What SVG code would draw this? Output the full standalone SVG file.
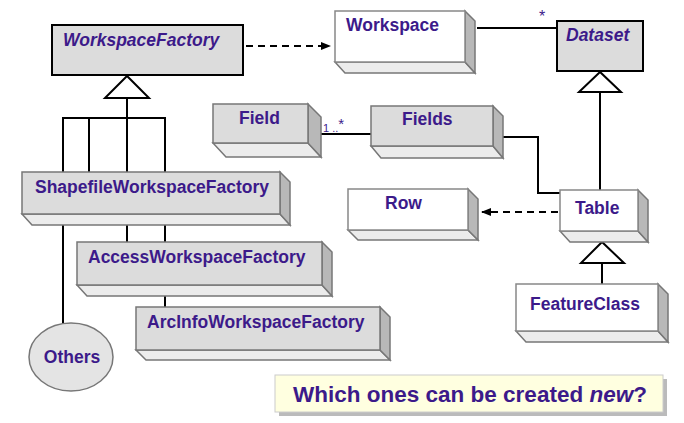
<svg xmlns="http://www.w3.org/2000/svg" width="684" height="423" viewBox="0 0 684 423">
<style>
.t{font-family:"Liberation Sans",Arial,sans-serif;font-weight:bold;font-size:17.5px;fill:#3c1a8a}
.i{font-style:italic}
.g{fill:#dcdcdc;stroke:#777;stroke-width:1.5}
.w{fill:#fff;stroke:#888;stroke-width:1.5}
.s{fill:#b8b8b8;stroke:#777;stroke-width:1.5}
.b{fill:#ececec;stroke:#777;stroke-width:1.5}
.ln{fill:none;stroke:#000;stroke-width:2}
.d{fill:none;stroke:#000;stroke-width:2;stroke-dasharray:7,5}
.tri{fill:#fff;stroke:#000;stroke-width:2}
</style>
<defs>
<marker id="a" viewBox="0 0 10 10" refX="9" refY="5" markerWidth="5" markerHeight="5" orient="auto"><path d="M0,1 L10,5 L0,9 z" fill="#000"/></marker>
</defs>
<rect width="684" height="423" fill="#fff"/>
<g id="connectors">
<path class="d" d="M246,46 H330" marker-end="url(#a)"/>
<path class="ln" d="M477,28 H557"/>
<path class="ln" d="M600,92 V190"/>
<path class="ln" d="M320,134 H371"/>
<path class="ln" d="M500,137 H538 V193 H560"/>
<path class="d" d="M558,212 H482" marker-end="url(#a)"/>
<path class="ln" d="M127,98 V172 M63,172 V118 H165 V172 M89,118 V172"/>
<path class="ln" d="M63,225 V323 M127,225 V242 M165,225 V242 M165,296 V307 M602,263 V284"/>
<polygon class="tri" points="127,76 105,98 149,98"/>
<polygon class="tri" points="600,72 579,92 621,92"/>
<polygon class="tri" points="602,242 581,263 624,263"/>
<text class="t" x="539" y="22" style="font-weight:normal;font-size:16px">*</text>
<text class="t" x="323" y="132" style="font-size:11px;font-weight:normal">1 ..<tspan style="font-size:15px" dy="-3">*</tspan></text>
</g>
<g id="WorkspaceFactory"><rect x="52" y="25" width="191" height="50" fill="#dcdcdc" stroke="#000" stroke-width="2"/><text class="t i" x="63" y="46">WorkspaceFactory</text></g>
<g id="Dataset"><rect x="557" y="21" width="86" height="50" fill="#dcdcdc" stroke="#000" stroke-width="2"/><text class="t i" x="566" y="41">Dataset</text></g>
<g id="Workspace"><polygon class="b" points="335,62 345,73 475,73 465,62"/><polygon class="s" points="465,11 475,21 475,73 465,62"/><rect class="w" x="335" y="11" width="130" height="51"/><text class="t" x="346" y="31">Workspace</text></g>
<g id="Field"><polygon class="b" points="213,143 226,157 321,157 308,143"/><polygon class="s" points="308,104 321,117 321,157 308,143"/><rect class="g" x="213" y="104" width="95" height="39"/><text class="t" x="239" y="124">Field</text></g>
<g id="Fields"><polygon class="b" points="371,146 381,158 503,158 493,146"/><polygon class="s" points="493,106 503,116 503,158 493,146"/><rect class="g" x="371" y="106" width="122" height="40"/><text class="t" x="402" y="125">Fields</text></g>
<g id="Row"><polygon class="b" points="348,230 358,240 478,240 468,230"/><polygon class="s" points="468,189 478,199 478,240 468,230"/><rect class="w" x="348" y="189" width="120" height="41"/><text class="t" x="385" y="209">Row</text></g>
<g id="Table"><polygon class="b" points="560,231 570,242 648,242 638,231"/><polygon class="s" points="638,190 648,200 648,242 638,231"/><rect class="w" x="560" y="190" width="78" height="41"/><text class="t" x="575" y="214">Table</text></g>
<g id="FeatureClass"><polygon class="b" points="516,331 526,342 668,342 658,331"/><polygon class="s" points="658,284 668,294 668,342 658,331"/><rect class="w" x="516" y="284" width="142" height="47"/><text class="t" x="530" y="310">FeatureClass</text></g>
<g id="ShapefileWorkspaceFactory"><polygon class="b" points="22,214 32,225 290,225 280,214"/><polygon class="s" points="280,172 290,182 290,225 280,214"/><rect class="g" x="22" y="172" width="258" height="42"/><text class="t" x="35" y="193">ShapefileWorkspaceFactory</text></g>
<g id="AccessWorkspaceFactory"><polygon class="b" points="77,285 87,296 332,296 322,285"/><polygon class="s" points="322,242 332,252 332,296 322,285"/><rect class="g" x="77" y="242" width="245" height="43"/><text class="t" x="88" y="263">AccessWorkspaceFactory</text></g>
<g id="ArcInfoWorkspaceFactory"><polygon class="b" points="136,350 146,360 390,360 380,350"/><polygon class="s" points="380,307 390,317 390,360 380,350"/><rect class="g" x="136" y="307" width="244" height="43"/><text class="t" x="147" y="328">ArcInfoWorkspaceFactory</text></g>
<g id="Others"><ellipse cx="71" cy="357" rx="42" ry="34" fill="#e4e4e4" stroke="#777" stroke-width="1.5"/><text class="t" x="72" y="363" text-anchor="middle">Others</text></g>
<g id="caption"><rect x="279" y="379" width="388" height="37" fill="#bbb"/><rect x="275" y="375" width="388" height="37" fill="#ffffe0" stroke="#ccc"/><text class="t" x="470" y="402" text-anchor="middle" style="font-size:22.5px">Which ones can be created <tspan font-style="italic">new</tspan>?</text></g>
</svg>
